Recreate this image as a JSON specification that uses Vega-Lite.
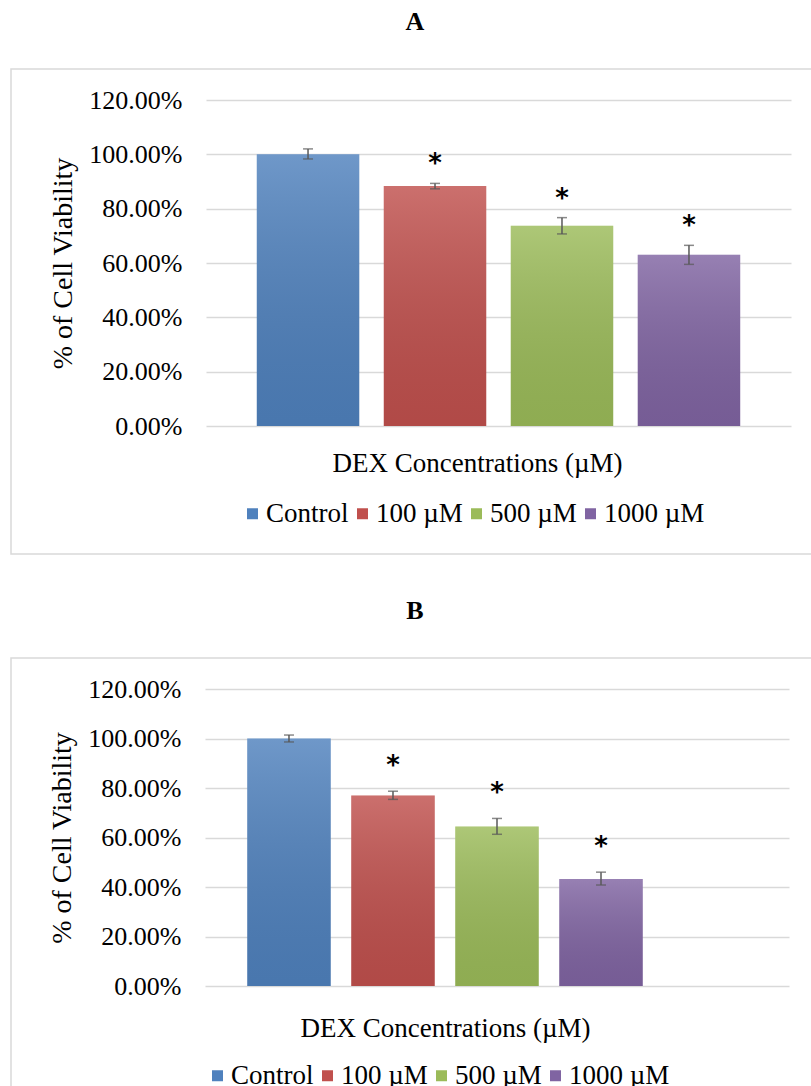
{
  "$schema": "https://vega.github.io/schema/vega-lite/v6.json",
  "background": "white",
  "padding": {"left": 10, "top": 8, "right": 0, "bottom": 0},
  "spacing": 42,
  "resolve": {"scale": {"color": "independent"}, "legend": {"color": "independent"}},
  "config": {
    "font": "Liberation Serif",
    "view": {"stroke": "#d9d9d9", "strokeWidth": 1.5},
    "axis": {"labelColor": "black", "titleColor": "black", "labelFont": "Liberation Serif", "titleFont": "Liberation Serif", "titleFontWeight": "normal"},
    "legend": {"labelColor": "black", "labelFont": "Liberation Serif"}
  },
  "vconcat": [
    {
      "width": 808,
      "height": 485,
      "title": {"text": "A", "font": "Liberation Serif", "fontSize": 26, "fontWeight": "bold", "color": "black", "anchor": "middle", "offset": 34},
      "data": {"values": [
        {"group": "Control", "v": 1.0, "lo": 0.983, "hi": 1.02, "sig": ""},
        {"group": "100 µM", "v": 0.883, "lo": 0.873, "hi": 0.893, "sig": "*"},
        {"group": "500 µM", "v": 0.737, "lo": 0.707, "hi": 0.767, "sig": "*"},
        {"group": "1000 µM", "v": 0.63, "lo": 0.595, "hi": 0.665, "sig": "*"}
      ]},
      "encoding": {
        "x": {"field": "group", "type": "nominal", "sort": null,
          "scale": {"domain": ["Control", "100 µM", "500 µM", "1000 µM"], "range": [195, 780], "paddingInner": 0.193, "paddingOuter": 0.4},
          "axis": {"labels": false, "ticks": false, "domain": false, "grid": false, "title": "DEX Concentrations (µM)", "titleFontSize": 27, "offset": -128, "titlePadding": 24, "titleX": 466}
        }
      },
      "layer": [
        {
          "mark": {"type": "bar"},
          "encoding": {
            "y": {"field": "v", "type": "quantitative",
              "scale": {"domain": [0, 1.2], "range": [357, 31], "nice": false, "zero": true},
              "axis": {"title": "% of Cell Viability", "titleFontSize": 28, "titlePadding": 11, "values": [0, 0.2, 0.4, 0.6, 0.8, 1.0, 1.2], "format": ".2%", "labelFontSize": 26, "labelPadding": 24, "ticks": false, "domain": false, "grid": true, "gridColor": "#d9d9d9", "gridWidth": 1.5, "offset": -195}
            },
            "color": {"field": "group", "type": "nominal",
              "scale": {"domain": ["Control", "100 µM", "500 µM", "1000 µM"], "range": ["#4f81bd", "#c0504d", "#9bbb59", "#8064a2"]},
              "legend": {"title": null, "orient": "none", "legendX": 228, "legendY": 431, "direction": "horizontal", "columns": 4, "symbolType": "square", "symbolSize": 121, "symbolStrokeWidth": 0, "labelFont": "Liberation Serif", "labelFontSize": 27, "labelOffset": 0, "columnPadding": 0}
            }
          }
        },
        {
          "mark": {"type": "bar", "fill": {"gradient": "linear", "x1": 0, "y1": 0, "x2": 0, "y2": 1, "stops": [{"offset": 0, "color": "rgba(255,255,255,0.18)"}, {"offset": 1, "color": "rgba(0,0,0,0.08)"}]}},
          "encoding": {"y": {"field": "v", "type": "quantitative"}}
        },
        {
          "mark": {"type": "rule", "color": "#595959", "strokeWidth": 1.5},
          "encoding": {"y": {"field": "lo", "type": "quantitative"}, "y2": {"field": "hi"}}
        },
        {
          "mark": {"type": "tick", "orient": "horizontal", "size": 10, "thickness": 1.5, "color": "#595959"},
          "encoding": {"y": {"field": "lo", "type": "quantitative"}}
        },
        {
          "mark": {"type": "tick", "orient": "horizontal", "size": 10, "thickness": 1.5, "color": "#595959"},
          "encoding": {"y": {"field": "hi", "type": "quantitative"}}
        },
        {
          "mark": {"type": "text", "font": "DejaVu Sans", "fontSize": 26, "fontWeight": "bold", "baseline": "alphabetic", "dy": -11, "color": "black"},
          "encoding": {"y": {"field": "hi", "type": "quantitative"}, "text": {"field": "sig"}}
        }
      ]
    },
    {
      "width": 808,
      "height": 485,
      "title": {"text": "B", "font": "Liberation Serif", "fontSize": 26, "fontWeight": "bold", "color": "black", "anchor": "middle", "offset": 34},
      "data": {"values": [
        {"group": "Control", "v": 1.0, "lo": 0.986, "hi": 1.014, "sig": ""},
        {"group": "100 µM", "v": 0.77, "lo": 0.754, "hi": 0.787, "sig": "*"},
        {"group": "500 µM", "v": 0.644, "lo": 0.613, "hi": 0.677, "sig": "*"},
        {"group": "1000 µM", "v": 0.432, "lo": 0.408, "hi": 0.46, "sig": "*"}
      ]},
      "encoding": {
        "x": {"field": "group", "type": "nominal", "sort": null,
          "scale": {"domain": ["Control", "100 µM", "500 µM", "1000 µM", "(none)"], "range": [194, 778], "paddingInner": 0.197, "paddingOuter": 0.406},
          "axis": {"labels": false, "ticks": false, "domain": false, "grid": false, "title": "DEX Concentrations (µM)", "titleFontSize": 27, "offset": -157, "titlePadding": 29, "titleX": 434}
        }
      },
      "layer": [
        {
          "mark": {"type": "bar"},
          "encoding": {
            "y": {"field": "v", "type": "quantitative",
              "scale": {"domain": [0, 1.2], "range": [328, 31], "nice": false, "zero": true},
              "axis": {"title": "% of Cell Viability", "titleFontSize": 28, "titlePadding": 11, "values": [0, 0.2, 0.4, 0.6, 0.8, 1.0, 1.2], "format": ".2%", "labelFontSize": 26, "labelPadding": 24, "ticks": false, "domain": false, "grid": true, "gridColor": "#d9d9d9", "gridWidth": 1.5, "offset": -194}
            },
            "color": {"field": "group", "type": "nominal",
              "scale": {"domain": ["Control", "100 µM", "500 µM", "1000 µM"], "range": ["#4f81bd", "#c0504d", "#9bbb59", "#8064a2"]},
              "legend": {"title": null, "orient": "none", "legendX": 193, "legendY": 404, "direction": "horizontal", "columns": 4, "symbolType": "square", "symbolSize": 121, "symbolStrokeWidth": 0, "labelFont": "Liberation Serif", "labelFontSize": 27, "labelOffset": 0, "columnPadding": 0}
            }
          }
        },
        {
          "mark": {"type": "bar", "fill": {"gradient": "linear", "x1": 0, "y1": 0, "x2": 0, "y2": 1, "stops": [{"offset": 0, "color": "rgba(255,255,255,0.18)"}, {"offset": 1, "color": "rgba(0,0,0,0.08)"}]}},
          "encoding": {"y": {"field": "v", "type": "quantitative"}}
        },
        {
          "mark": {"type": "rule", "color": "#595959", "strokeWidth": 1.5},
          "encoding": {"y": {"field": "lo", "type": "quantitative"}, "y2": {"field": "hi"}}
        },
        {
          "mark": {"type": "tick", "orient": "horizontal", "size": 10, "thickness": 1.5, "color": "#595959"},
          "encoding": {"y": {"field": "lo", "type": "quantitative"}}
        },
        {
          "mark": {"type": "tick", "orient": "horizontal", "size": 10, "thickness": 1.5, "color": "#595959"},
          "encoding": {"y": {"field": "hi", "type": "quantitative"}}
        },
        {
          "mark": {"type": "text", "font": "DejaVu Sans", "fontSize": 26, "fontWeight": "bold", "baseline": "alphabetic", "dy": -17, "color": "black"},
          "encoding": {"y": {"field": "hi", "type": "quantitative"}, "text": {"field": "sig"}}
        }
      ]
    }
  ]
}
